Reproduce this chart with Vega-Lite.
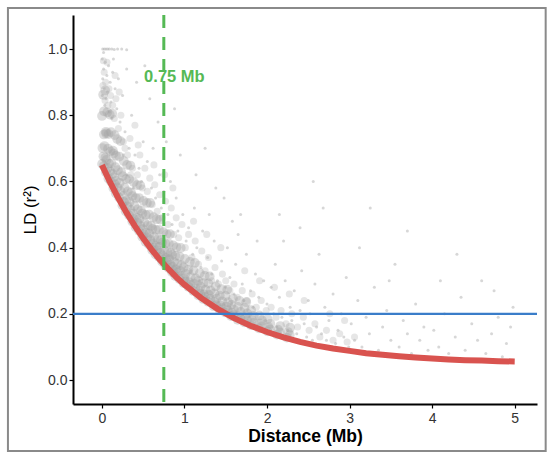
{
  "$schema": "https://vega.github.io/schema/vega-lite/v6.json",
  "width": 464,
  "height": 389,
  "autosize": {"type": "none"},
  "padding": {"left": 73, "top": 15, "right": 13, "bottom": 57},
  "background": "white",
  "config": {
    "view": {"stroke": null},
    "axis": {
      "grid": false,
      "domainColor": "black",
      "domainWidth": 2,
      "tickColor": "black",
      "tickWidth": 1.2,
      "tickSize": 4,
      "labelFont": "Liberation Sans",
      "labelFontSize": 14,
      "labelColor": "#333333",
      "titleFont": "Liberation Sans",
      "titleColor": "black"
    }
  },
  "datasets": {
    "core": [
      {"dist":0.002,"r2":0.653},{"dist":0.018,"r2":0.676},{"dist":0.006,"r2":0.701},{"dist":0.024,"r2":0.742},{"dist":0.001,"r2":0.798},{"dist":0.015,"r2":0.862},
      {"dist":0.023,"r2":0.647},{"dist":0.043,"r2":0.672},{"dist":0.031,"r2":0.707},{"dist":0.049,"r2":0.750},{"dist":0.026,"r2":0.812},{"dist":0.040,"r2":0.875},
      {"dist":0.048,"r2":0.628},{"dist":0.068,"r2":0.640},{"dist":0.056,"r2":0.665},{"dist":0.074,"r2":0.699},{"dist":0.051,"r2":0.745},{"dist":0.065,"r2":0.809},
      {"dist":0.078,"r2":0.609},{"dist":0.098,"r2":0.630},{"dist":0.086,"r2":0.654},{"dist":0.104,"r2":0.691},{"dist":0.081,"r2":0.743},{"dist":0.095,"r2":0.802},
      {"dist":0.108,"r2":0.600},{"dist":0.128,"r2":0.623},{"dist":0.116,"r2":0.655},{"dist":0.134,"r2":0.693},{"dist":0.111,"r2":0.749},{"dist":0.125,"r2":0.805},
      {"dist":0.138,"r2":0.580},{"dist":0.158,"r2":0.591},{"dist":0.146,"r2":0.613},{"dist":0.164,"r2":0.643},{"dist":0.141,"r2":0.684},{"dist":0.155,"r2":0.740},
      {"dist":0.168,"r2":0.564},{"dist":0.188,"r2":0.582},{"dist":0.176,"r2":0.602},{"dist":0.194,"r2":0.634},{"dist":0.171,"r2":0.678},{"dist":0.185,"r2":0.728},
      {"dist":0.208,"r2":0.551},{"dist":0.228,"r2":0.570},{"dist":0.216,"r2":0.596},{"dist":0.234,"r2":0.628},{"dist":0.211,"r2":0.675},{"dist":0.225,"r2":0.722},
      {"dist":0.248,"r2":0.528},{"dist":0.268,"r2":0.538},{"dist":0.256,"r2":0.556},{"dist":0.274,"r2":0.581},{"dist":0.251,"r2":0.616},{"dist":0.265,"r2":0.662},
      {"dist":0.288,"r2":0.510},{"dist":0.308,"r2":0.525},{"dist":0.296,"r2":0.542},{"dist":0.314,"r2":0.570},{"dist":0.291,"r2":0.607},{"dist":0.305,"r2":0.650},
      {"dist":0.328,"r2":0.498},{"dist":0.348,"r2":0.514},{"dist":0.336,"r2":0.538},{"dist":0.354,"r2":0.566},{"dist":0.331,"r2":0.607},{"dist":0.345,"r2":0.648},
      {"dist":0.368,"r2":0.479},{"dist":0.388,"r2":0.487},{"dist":0.376,"r2":0.503},{"dist":0.394,"r2":0.526},{"dist":0.371,"r2":0.556},{"dist":0.385,"r2":0.598},
      {"dist":0.408,"r2":0.462},{"dist":0.428,"r2":0.476},{"dist":0.416,"r2":0.491},{"dist":0.434,"r2":0.516},{"dist":0.411,"r2":0.550},{"dist":0.425,"r2":0.589},
      {"dist":0.448,"r2":0.451},{"dist":0.468,"r2":0.466},{"dist":0.456,"r2":0.487},{"dist":0.474,"r2":0.512},{"dist":0.451,"r2":0.550},{"dist":0.465,"r2":0.588},
      {"dist":0.488,"r2":0.433},{"dist":0.508,"r2":0.441},{"dist":0.496,"r2":0.456},{"dist":0.514,"r2":0.476},{"dist":0.491,"r2":0.503},{"dist":0.505,"r2":0.541},
      {"dist":0.528,"r2":0.418},{"dist":0.548,"r2":0.431},{"dist":0.536,"r2":0.445},{"dist":0.554,"r2":0.468},{"dist":0.531,"r2":0.499},{"dist":0.545,"r2":0.535},
      {"dist":0.568,"r2":0.409},{"dist":0.588,"r2":0.423},{"dist":0.576,"r2":0.442},{"dist":0.594,"r2":0.466},{"dist":0.571,"r2":0.500},{"dist":0.585,"r2":0.535},
      {"dist":0.608,"r2":0.393},{"dist":0.628,"r2":0.400},{"dist":0.616,"r2":0.413},{"dist":0.634,"r2":0.432},{"dist":0.611,"r2":0.457},{"dist":0.625,"r2":0.492},
      {"dist":0.648,"r2":0.380},{"dist":0.668,"r2":0.392},{"dist":0.656,"r2":0.405},{"dist":0.674,"r2":0.425},{"dist":0.651,"r2":0.454},{"dist":0.665,"r2":0.486},
      {"dist":0.688,"r2":0.372},{"dist":0.708,"r2":0.384},{"dist":0.696,"r2":0.402},{"dist":0.714,"r2":0.423},{"dist":0.691,"r2":0.454},{"dist":0.705,"r2":0.485},
      {"dist":0.728,"r2":0.358},{"dist":0.748,"r2":0.364},{"dist":0.736,"r2":0.376},{"dist":0.754,"r2":0.393},{"dist":0.731,"r2":0.415},{"dist":0.745,"r2":0.447},
      {"dist":0.768,"r2":0.346},{"dist":0.788,"r2":0.356},{"dist":0.776,"r2":0.368},{"dist":0.794,"r2":0.386},{"dist":0.771,"r2":0.412},{"dist":0.785,"r2":0.441},
      {"dist":0.808,"r2":0.338},{"dist":0.828,"r2":0.349},{"dist":0.816,"r2":0.365},{"dist":0.834,"r2":0.384},{"dist":0.811,"r2":0.412},{"dist":0.825,"r2":0.441},
      {"dist":0.848,"r2":0.326},{"dist":0.868,"r2":0.331},{"dist":0.856,"r2":0.342},{"dist":0.874,"r2":0.357},{"dist":0.851,"r2":0.378},{"dist":0.865,"r2":0.407},
      {"dist":0.888,"r2":0.314},{"dist":0.908,"r2":0.324},{"dist":0.896,"r2":0.334},{"dist":0.914,"r2":0.351},{"dist":0.891,"r2":0.375},{"dist":0.905,"r2":0.401},
      {"dist":0.938,"r2":0.305},{"dist":0.958,"r2":0.315},{"dist":0.946,"r2":0.330},{"dist":0.964,"r2":0.347},{"dist":0.941,"r2":0.373},{"dist":0.955,"r2":0.399},
      {"dist":0.988,"r2":0.293},{"dist":1.008,"r2":0.297},{"dist":0.996,"r2":0.307},{"dist":1.014,"r2":0.321},{"dist":0.991,"r2":0.340},{"dist":1.005,"r2":0.366},
      {"dist":1.046,"r2":0.282},{"dist":1.072,"r2":0.287},{"dist":1.056,"r2":0.296},{"dist":1.076,"r2":0.312},{"dist":1.049,"r2":0.333},{"dist":1.066,"r2":0.357},
      {"dist":1.106,"r2":0.269},{"dist":1.132,"r2":0.278},{"dist":1.116,"r2":0.291},{"dist":1.136,"r2":0.307},{"dist":1.109,"r2":0.331},{"dist":1.126,"r2":0.354},
      {"dist":1.166,"r2":0.256},{"dist":1.192,"r2":0.260},{"dist":1.176,"r2":0.269},{"dist":1.196,"r2":0.282},{"dist":1.169,"r2":0.299},{"dist":1.186,"r2":0.323},
      {"dist":1.226,"r2":0.245},{"dist":1.252,"r2":0.251},{"dist":1.236,"r2":0.259},{"dist":1.256,"r2":0.273},{"dist":1.229,"r2":0.293},{"dist":1.246,"r2":0.315},
      {"dist":1.286,"r2":0.236},{"dist":1.312,"r2":0.245},{"dist":1.296,"r2":0.257},{"dist":1.316,"r2":0.271},{"dist":1.289,"r2":0.292},{"dist":1.306,"r2":0.313},
      {"dist":1.354,"r2":0.223},{"dist":1.384,"r2":0.226},{"dist":1.366,"r2":0.235},{"dist":1.388,"r2":0.246},{"dist":1.358,"r2":0.262},{"dist":1.378,"r2":0.283},
      {"dist":1.424,"r2":0.212},{"dist":1.454,"r2":0.217},{"dist":1.436,"r2":0.225},{"dist":1.458,"r2":0.238},{"dist":1.428,"r2":0.255},{"dist":1.448,"r2":0.275},
      {"dist":1.494,"r2":0.204},{"dist":1.524,"r2":0.211},{"dist":1.506,"r2":0.222},{"dist":1.528,"r2":0.235},{"dist":1.498,"r2":0.254},{"dist":1.518,"r2":0.273},
      {"dist":1.564,"r2":0.193},{"dist":1.594,"r2":0.196},{"dist":1.576,"r2":0.203},{"dist":1.598,"r2":0.213},{"dist":1.568,"r2":0.227},{"dist":1.588,"r2":0.246},
      {"dist":1.644,"r2":0.182},{"dist":1.676,"r2":0.187},{"dist":1.656,"r2":0.194},{"dist":1.680,"r2":0.206},{"dist":1.648,"r2":0.221},{"dist":1.668,"r2":0.239},
      {"dist":1.724,"r2":0.174},{"dist":1.756,"r2":0.181},{"dist":1.736,"r2":0.190},{"dist":1.760,"r2":0.201},{"dist":1.728,"r2":0.218},{"dist":1.748,"r2":0.235},
      {"dist":1.804,"r2":0.166},{"dist":1.836,"r2":0.173},{"dist":1.816,"r2":0.182},{"dist":1.840,"r2":0.194},{"dist":1.808,"r2":0.211},
      {"dist":1.902,"r2":0.156},{"dist":1.936,"r2":0.162},{"dist":1.914,"r2":0.171},{"dist":1.940,"r2":0.180},{"dist":1.908,"r2":0.195},
      {"dist":2.004,"r2":0.147},{"dist":2.036,"r2":0.153},{"dist":2.016,"r2":0.160},{"dist":2.040,"r2":0.170},{"dist":2.008,"r2":0.184},
      {"dist":2.120,"r2":0.137},{"dist":2.156,"r2":0.144},{"dist":2.134,"r2":0.152},{"dist":2.160,"r2":0.163},
      {"dist":2.240,"r2":0.128},{"dist":2.276,"r2":0.136},{"dist":2.254,"r2":0.145},{"dist":2.280,"r2":0.158}
    ],
    "mid": [
      {"dist":0.012,"r2":0.89},{"dist":0.028,"r2":0.93},{"dist":0.045,"r2":0.90},{"dist":0.062,"r2":0.96},{"dist":0.018,"r2":0.965},{"dist":0.085,"r2":0.88},{"dist":0.038,"r2":0.845},{"dist":0.072,"r2":0.83},
      {"dist":0.105,"r2":0.86},{"dist":0.13,"r2":0.83},{"dist":0.15,"r2":0.79},{"dist":0.17,"r2":0.85},{"dist":0.20,"r2":0.76},{"dist":0.23,"r2":0.80},{"dist":0.26,"r2":0.72},{"dist":0.28,"r2":0.70},{"dist":0.16,"r2":0.92},{"dist":0.21,"r2":0.87},
      {"dist":0.31,"r2":0.68},{"dist":0.34,"r2":0.73},{"dist":0.37,"r2":0.64},{"dist":0.40,"r2":0.77},{"dist":0.43,"r2":0.62},{"dist":0.46,"r2":0.68},{"dist":0.49,"r2":0.58},{"dist":0.52,"r2":0.64},{"dist":0.55,"r2":0.57},{"dist":0.58,"r2":0.61},{"dist":0.35,"r2":0.62},{"dist":0.44,"r2":0.71},
      {"dist":0.61,"r2":0.53},{"dist":0.64,"r2":0.59},{"dist":0.67,"r2":0.51},{"dist":0.70,"r2":0.56},{"dist":0.73,"r2":0.49},{"dist":0.77,"r2":0.54},{"dist":0.80,"r2":0.47},{"dist":0.84,"r2":0.52},{"dist":0.87,"r2":0.44},{"dist":0.90,"r2":0.49},{"dist":0.93,"r2":0.43},{"dist":0.97,"r2":0.47},{"dist":0.63,"r2":0.65},{"dist":0.76,"r2":0.62},{"dist":0.86,"r2":0.58},
      {"dist":1.01,"r2":0.40},{"dist":1.05,"r2":0.44},{"dist":1.09,"r2":0.37},{"dist":1.13,"r2":0.42},{"dist":1.17,"r2":0.35},{"dist":1.21,"r2":0.39},{"dist":1.25,"r2":0.33},{"dist":1.29,"r2":0.37},{"dist":1.33,"r2":0.30},{"dist":1.37,"r2":0.34},{"dist":1.41,"r2":0.29},{"dist":1.46,"r2":0.32},{"dist":1.50,"r2":0.30},{"dist":1.55,"r2":0.27},{"dist":1.60,"r2":0.29},{"dist":1.11,"r2":0.48},{"dist":1.27,"r2":0.44},{"dist":1.44,"r2":0.40},
      {"dist":1.64,"r2":0.25},{"dist":1.70,"r2":0.27},{"dist":1.76,"r2":0.24},{"dist":1.82,"r2":0.26},{"dist":1.87,"r2":0.22},{"dist":1.93,"r2":0.24},{"dist":1.99,"r2":0.21},{"dist":2.05,"r2":0.22},{"dist":2.11,"r2":0.19},{"dist":2.17,"r2":0.21},{"dist":2.23,"r2":0.17},{"dist":2.30,"r2":0.20},{"dist":2.37,"r2":0.16},{"dist":2.44,"r2":0.19},{"dist":2.51,"r2":0.15},{"dist":2.58,"r2":0.17},{"dist":1.73,"r2":0.33},{"dist":1.91,"r2":0.30},{"dist":2.09,"r2":0.28},{"dist":2.27,"r2":0.26},{"dist":2.45,"r2":0.24},
      {"dist":2.64,"r2":0.13},{"dist":2.72,"r2":0.15},{"dist":2.80,"r2":0.12},{"dist":2.88,"r2":0.14},{"dist":2.97,"r2":0.115},{"dist":3.06,"r2":0.13},{"dist":2.76,"r2":0.20},{"dist":2.94,"r2":0.18}
    ],
    "sparse": [
      {"dist":0.01,"r2":1.0},{"dist":0.03,"r2":1.0},{"dist":0.05,"r2":1.0},{"dist":0.07,"r2":1.0},{"dist":0.09,"r2":1.0},{"dist":0.12,"r2":1.0},{"dist":0.15,"r2":0.999},{"dist":0.19,"r2":1.0},{"dist":0.24,"r2":1.0},{"dist":0.30,"r2":0.998},
      {"dist":0.005,"r2":0.97},{"dist":0.02,"r2":0.94},{"dist":0.01,"r2":0.91},{"dist":0.04,"r2":0.96},{"dist":0.06,"r2":0.92},{"dist":0.03,"r2":0.88},{"dist":0.08,"r2":0.95},{"dist":0.10,"r2":0.90},{"dist":0.005,"r2":0.86},{"dist":0.05,"r2":0.85},
      {"dist":0.13,"r2":0.93},{"dist":0.07,"r2":0.87},{"dist":0.16,"r2":0.88},{"dist":0.11,"r2":0.84},{"dist":0.20,"r2":0.91},{"dist":0.02,"r2":0.99},{"dist":0.14,"r2":0.97},{"dist":0.25,"r2":0.86},{"dist":0.18,"r2":0.82},{"dist":0.09,"r2":0.81},
      {"dist":0.30,"r2":0.94},{"dist":0.22,"r2":0.78},{"dist":0.035,"r2":0.83},{"dist":0.12,"r2":0.79},
      {"dist":0.28,"r2":0.75},{"dist":0.33,"r2":0.70},{"dist":0.40,"r2":0.68},{"dist":0.36,"r2":0.80},{"dist":0.45,"r2":0.64},{"dist":0.50,"r2":0.72},{"dist":0.48,"r2":0.60},{"dist":0.55,"r2":0.66},{"dist":0.60,"r2":0.58},{"dist":0.62,"r2":0.70},
      {"dist":0.65,"r2":0.55},{"dist":0.70,"r2":0.62},{"dist":0.72,"r2":0.52},{"dist":0.68,"r2":0.78},{"dist":0.75,"r2":0.57},{"dist":0.80,"r2":0.50},{"dist":0.83,"r2":0.60},{"dist":0.85,"r2":0.47},{"dist":0.90,"r2":0.55},{"dist":0.92,"r2":0.45},
      {"dist":0.95,"r2":0.68},{"dist":0.98,"r2":0.50},{"dist":1.02,"r2":0.42},{"dist":0.58,"r2":0.85},{"dist":0.42,"r2":0.90},{"dist":0.78,"r2":0.72},{"dist":0.88,"r2":0.82},{"dist":0.52,"r2":0.95},{"dist":0.30,"r2":0.62},{"dist":0.38,"r2":0.58},{"dist":0.26,"r2":0.68},
      {"dist":1.05,"r2":0.46},{"dist":1.10,"r2":0.38},{"dist":1.12,"r2":0.52},{"dist":1.15,"r2":0.40},{"dist":1.20,"r2":0.34},{"dist":1.22,"r2":0.45},{"dist":1.28,"r2":0.37},{"dist":1.30,"r2":0.50},{"dist":1.33,"r2":0.32},{"dist":1.36,"r2":0.42},
      {"dist":1.40,"r2":0.30},{"dist":1.45,"r2":0.36},{"dist":1.48,"r2":0.55},{"dist":1.50,"r2":0.28},{"dist":1.52,"r2":0.40},{"dist":1.55,"r2":0.31},{"dist":1.60,"r2":0.26},{"dist":1.62,"r2":0.35},{"dist":1.65,"r2":0.44},{"dist":1.70,"r2":0.29},
      {"dist":1.72,"r2":0.24},{"dist":1.75,"r2":0.38},{"dist":1.80,"r2":0.27},{"dist":1.83,"r2":0.22},{"dist":1.86,"r2":0.32},{"dist":1.90,"r2":0.25},{"dist":1.93,"r2":0.20},{"dist":1.96,"r2":0.30},{"dist":2.00,"r2":0.23},{"dist":1.14,"r2":0.62},
      {"dist":1.38,"r2":0.58},{"dist":1.68,"r2":0.50},{"dist":1.25,"r2":0.70},{"dist":1.58,"r2":0.48},{"dist":1.88,"r2":0.42},{"dist":1.08,"r2":0.33},{"dist":1.18,"r2":0.30},{"dist":1.42,"r2":0.26},{"dist":1.57,"r2":0.23},{"dist":1.78,"r2":0.20},{"dist":1.98,"r2":0.18},
      {"dist":2.05,"r2":0.28},{"dist":2.08,"r2":0.20},{"dist":2.10,"r2":0.35},{"dist":2.12,"r2":0.16},{"dist":2.15,"r2":0.25},{"dist":2.18,"r2":0.19},{"dist":2.20,"r2":0.42},{"dist":2.22,"r2":0.30},{"dist":2.25,"r2":0.15},{"dist":2.28,"r2":0.22},
      {"dist":2.30,"r2":0.18},{"dist":2.33,"r2":0.27},{"dist":2.36,"r2":0.14},{"dist":2.40,"r2":0.21},{"dist":2.42,"r2":0.33},{"dist":2.45,"r2":0.17},{"dist":2.48,"r2":0.13},{"dist":2.50,"r2":0.24},{"dist":2.52,"r2":0.20},{"dist":2.55,"r2":0.12},
      {"dist":2.58,"r2":0.29},{"dist":2.60,"r2":0.16},{"dist":2.63,"r2":0.38},{"dist":2.66,"r2":0.14},{"dist":2.70,"r2":0.22},{"dist":2.72,"r2":0.12},{"dist":2.75,"r2":0.18},{"dist":2.80,"r2":0.26},{"dist":2.83,"r2":0.11},{"dist":2.86,"r2":0.15},
      {"dist":2.90,"r2":0.20},{"dist":2.93,"r2":0.13},{"dist":2.96,"r2":0.31},{"dist":2.99,"r2":0.10},{"dist":2.15,"r2":0.50},{"dist":2.40,"r2":0.46},{"dist":2.68,"r2":0.52},{"dist":2.56,"r2":0.60},
      {"dist":3.02,"r2":0.17},{"dist":3.06,"r2":0.12},{"dist":3.10,"r2":0.24},{"dist":3.15,"r2":0.10},{"dist":3.20,"r2":0.19},{"dist":3.24,"r2":0.14},{"dist":3.30,"r2":0.28},{"dist":3.35,"r2":0.09},{"dist":3.40,"r2":0.16},{"dist":3.45,"r2":0.21},
      {"dist":3.50,"r2":0.12},{"dist":3.55,"r2":0.35},{"dist":3.60,"r2":0.10},{"dist":3.65,"r2":0.18},{"dist":3.70,"r2":0.14},{"dist":3.75,"r2":0.08},{"dist":3.80,"r2":0.23},{"dist":3.85,"r2":0.12},{"dist":3.90,"r2":0.16},{"dist":3.95,"r2":0.09},
      {"dist":3.12,"r2":0.40},{"dist":3.48,"r2":0.30},{"dist":3.70,"r2":0.45},{"dist":3.25,"r2":0.52},
      {"dist":4.02,"r2":0.15},{"dist":4.08,"r2":0.10},{"dist":4.15,"r2":0.20},{"dist":4.20,"r2":0.08},{"dist":4.28,"r2":0.13},{"dist":4.35,"r2":0.25},{"dist":4.40,"r2":0.09},{"dist":4.48,"r2":0.17},{"dist":4.55,"r2":0.12},{"dist":4.60,"r2":0.30},
      {"dist":4.65,"r2":0.08},{"dist":4.72,"r2":0.14},{"dist":4.80,"r2":0.19},{"dist":4.85,"r2":0.07},{"dist":4.90,"r2":0.11},{"dist":4.95,"r2":0.16},{"dist":4.98,"r2":0.22},{"dist":4.30,"r2":0.38},{"dist":4.75,"r2":0.27},{"dist":4.10,"r2":0.30}
    ],
    "fit": [
      {"dist":0.0,"r2":0.650},{"dist":0.1,"r2":0.597},{"dist":0.2,"r2":0.549},{"dist":0.3,"r2":0.505},{"dist":0.4,"r2":0.465},{"dist":0.5,"r2":0.428},{"dist":0.6,"r2":0.395},{"dist":0.7,"r2":0.364},{"dist":0.8,"r2":0.337},{"dist":0.9,"r2":0.311},
      {"dist":1.0,"r2":0.288},{"dist":1.2,"r2":0.248},{"dist":1.4,"r2":0.215},{"dist":1.6,"r2":0.187},{"dist":1.8,"r2":0.164},{"dist":2.0,"r2":0.145},{"dist":2.2,"r2":0.129},{"dist":2.4,"r2":0.115},{"dist":2.6,"r2":0.104},{"dist":2.8,"r2":0.095},
      {"dist":3.0,"r2":0.088},{"dist":3.2,"r2":0.081},{"dist":3.4,"r2":0.076},{"dist":3.6,"r2":0.072},{"dist":3.8,"r2":0.068},{"dist":4.0,"r2":0.065},{"dist":4.2,"r2":0.062},{"dist":4.4,"r2":0.060},{"dist":4.6,"r2":0.059},{"dist":4.8,"r2":0.057},{"dist":5.0,"r2":0.056}
    ]
  },
  "layer": [
    {
      "data": {"name": "sparse"},
      "mark": {"type": "circle", "size": 9, "color": "#b0b0b0", "opacity": 0.5},
      "encoding": {
        "x": {
          "field": "dist", "type": "quantitative",
          "scale": {"domain": [-0.35, 5.27], "nice": false, "zero": false},
          "axis": {"values": [0, 1, 2, 3, 4, 5], "format": "d", "title": "Distance (Mb)", "titleFontSize": 17.5, "titleFontWeight": "bold", "titlePadding": 2, "labelPadding": 3}
        },
        "y": {
          "field": "r2", "type": "quantitative",
          "scale": {"domain": [-0.0725, 1.103], "nice": false, "zero": false},
          "axis": {"values": [0, 0.2, 0.4, 0.6, 0.8, 1.0], "format": ".1f", "title": "LD (r²)", "titleFontSize": 17, "titleFontWeight": "normal", "titlePadding": 8, "labelPadding": 2}
        }
      }
    },
    {
      "data": {"name": "mid"},
      "mark": {"type": "circle", "size": 50, "color": "#b8b8b8", "opacity": 0.35},
      "encoding": {
        "x": {"field": "dist", "type": "quantitative"},
        "y": {"field": "r2", "type": "quantitative"}
      }
    },
    {
      "data": {"name": "core"},
      "mark": {"type": "circle", "size": 95, "color": "#a0a0a0", "opacity": 0.36},
      "encoding": {
        "x": {"field": "dist", "type": "quantitative"},
        "y": {"field": "r2", "type": "quantitative"}
      }
    },
    {
      "data": {"name": "fit"},
      "mark": {"type": "line", "color": "#d9534f", "strokeWidth": 6, "strokeCap": "butt"},
      "encoding": {
        "x": {"field": "dist", "type": "quantitative"},
        "y": {"field": "r2", "type": "quantitative"}
      }
    },
    {
      "data": {"values": [{}]},
      "mark": {"type": "rule", "color": "#3a7dc9", "strokeWidth": 2.2},
      "encoding": {"y": {"datum": 0.2, "type": "quantitative"}}
    },
    {
      "data": {"values": [{}]},
      "mark": {"type": "rule", "color": "#55b955", "strokeWidth": 3, "strokeDash": [13, 9]},
      "encoding": {"x": {"datum": 0.75, "type": "quantitative"}}
    },
    {
      "data": {"values": [{"label": "0.75 Mb"}]},
      "mark": {"type": "text", "color": "#55b955", "font": "Liberation Sans", "fontSize": 16.5, "fontWeight": "bold", "align": "center", "baseline": "middle"},
      "encoding": {
        "x": {"datum": 0.878, "type": "quantitative"},
        "y": {"datum": 0.915, "type": "quantitative"},
        "text": {"field": "label"}
      }
    },
    {
      "data": {"values": [{}]},
      "mark": {"type": "rect", "fill": null, "stroke": "#8a8a8a", "strokeWidth": 2, "clip": false},
      "encoding": {
        "x": {"datum": -1.138, "type": "quantitative"},
        "x2": {"datum": 5.375},
        "y": {"datum": 1.124, "type": "quantitative"},
        "y2": {"datum": -0.2145}
      }
    }
  ]
}
